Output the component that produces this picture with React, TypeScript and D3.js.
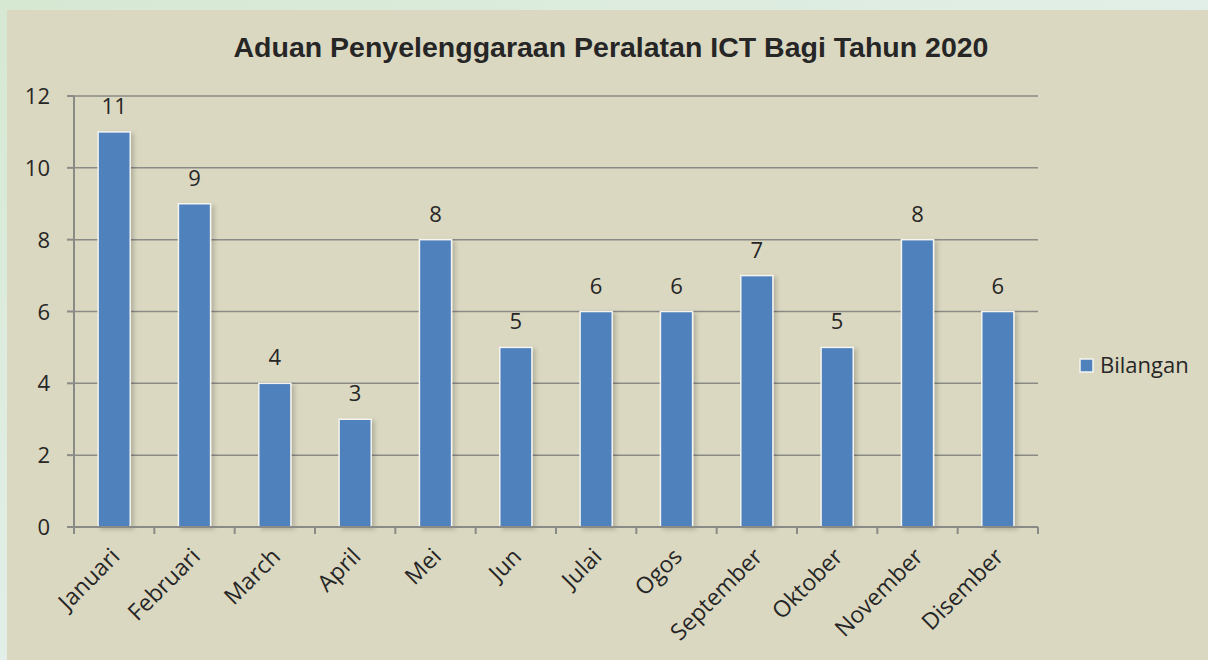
import React from "react";
import * as d3 from "d3";

const categories = ["Januari","Februari","March","April","Mei","Jun","Julai","Ogos","September","Oktober","November","Disember"];
const values = [11, 9, 4, 3, 8, 5, 6, 6, 7, 5, 8, 6];
const yTicks = [0, 2, 4, 6, 8, 10, 12];
const seriesName = "Bilangan";
const title = "Aduan Penyelenggaraan Peralatan ICT Bagi Tahun 2020";

const W = 1208, H = 660;
const left = 74, right = 1038, top = 96, bottom = 527;

export default function App() {
  const x = d3.scaleBand<string>().domain(categories).range([left, right]).paddingInner(0.6).paddingOuter(0.3);
  const xb = d3.scaleBand<string>().domain(categories).range([left, right]);
  const y = d3.scaleLinear().domain([0, 12]).range([bottom, top]);
  const font = "'Open Sans', sans-serif";
  const txt = "#262626";
  const grid = "#8a8a86";
  return (
    <svg width={W} height={H} style={{ position: "absolute", left: 0, top: 0 }}>
      <defs>
        <linearGradient id="bgG" x1="0" y1="0" x2="1" y2="1">
          <stop offset="0" stopColor="#d6e8d2" />
          <stop offset="0.5" stopColor="#e2efe8" />
          <stop offset="1" stopColor="#d3e6cf" />
        </linearGradient>
        <filter id="sh" x="-20%" y="-5%" width="150%" height="115%">
          <feDropShadow dx="3" dy="2" stdDeviation="2" floodColor="#000" floodOpacity="0.18" />
        </filter>
      </defs>
      <rect x={0} y={0} width={W} height={H} fill="url(#bgG)" />
      <rect x={7} y={10} width={W - 7} height={H - 10} fill="#dbd8c1" />
      <text x={611} y={57} textAnchor="middle" fontFamily="'Liberation Sans', Arial, sans-serif" fontWeight="bold" fontSize={28.5} fill={txt}>{title}</text>
      {yTicks.map(t => (
        <g key={t}>
          {t > 0 && <line x1={left} x2={right} y1={y(t)} y2={y(t)} stroke={grid} strokeWidth={1.5} />}
          <line x1={left - 7} x2={left} y1={y(t)} y2={y(t)} stroke={grid} strokeWidth={2} />
          <text x={50} y={y(t) + 8} textAnchor="end" fontFamily={font} fontSize={22} fill={txt}>{t}</text>
        </g>
      ))}
      {categories.map((c, i) => (
        <g key={c}>
          <rect x={x(c)} y={y(values[i])} width={x.bandwidth()} height={bottom - y(values[i])} fill="#4f81bd" stroke="#f4f4f0" strokeWidth={1.5} filter="url(#sh)" />
          <text x={x(c)! + x.bandwidth() / 2} y={y(values[i]) - 18} textAnchor="middle" fontFamily={font} fontSize={22} fill={txt}>{values[i]}</text>
        </g>
      ))}
      <line x1={left} x2={left} y1={top} y2={bottom} stroke={grid} strokeWidth={2} />
      <line x1={left} x2={right} y1={bottom} y2={bottom} stroke={grid} strokeWidth={2} />
      {[...categories.map(c => xb(c)!), right].map((v, i) => (
        <line key={i} x1={v} x2={v} y1={bottom} y2={bottom + 7} stroke={grid} strokeWidth={2} />
      ))}
      {categories.map(c => {
        const cx = xb(c)! + xb.bandwidth() / 2 + 7;
        const cy = bottom + 31;
        return (
          <text key={c} x={cx} y={cy} textAnchor="end" transform={`rotate(-45 ${cx} ${cy})`} fontFamily={font} fontSize={23} fill={txt}>{c}</text>
        );
      })}
      <rect x={1080} y={359} width={13} height={13} fill="#4f81bd" stroke="#f4f4f0" strokeWidth={1.5} />
      <text x={1100} y={373} fontFamily={font} fontSize={22} fill={txt}>{seriesName}</text>
    </svg>
  );
}
